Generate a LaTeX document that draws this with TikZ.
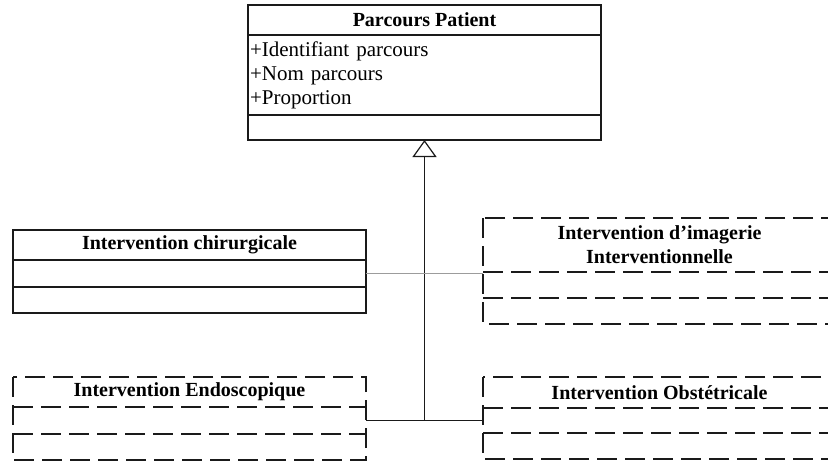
\documentclass[tikz,border=0pt]{standalone}
\usepackage{fontspec}
\setmainfont{Liberation Serif}
\usepackage{tikz}
\usetikzlibrary{arrows.meta,positioning}
\definecolor{ink}{HTML}{1A1A1A}
\definecolor{link}{HTML}{9C9C9C}

\begin{document}
\begin{tikzpicture}[x=1pt,y=1pt,node distance=0pt,
  every node/.style={font=\fontsize{10.5}{12}\selectfont,outer sep=0pt,inner sep=0pt},
  part/.style={minimum width=176.5pt,align=center},
  cls/.style={part,draw=ink,line width=0.7pt},
  ttl/.style={font=\fontsize{10}{12}\selectfont\bfseries},
  dbox/.style={draw=ink,line width=0.7pt,dash pattern=on 10pt off 4pt},
  gen/.style={-{Triangle[open,length=8.5pt,width=12pt]},draw=ink,line width=0.6pt},
  assoc/.style={draw=link,line width=0.6pt}]
  \clip (0,0) rectangle (414,-230.5);
  % super class
  \node[cls,ttl,minimum height=15pt,anchor=north] (parc) at (212.25,-2.5) {Parcours Patient};
  \node[cls,minimum height=40pt,text width=174.5pt,align=left,below=of parc] (parcattr)
    {+Identifiant parcours\\+Nom parcours\\+Proportion};
  \node[cls,minimum height=12.5pt,below=of parcattr] (parcops) {};
  % sub classes
  \node[cls,ttl,minimum height=15pt,anchor=north] (chir) at (94.75,-115) {Intervention chirurgicale};
  \node[cls,minimum height=13.5pt,below=of chir] (chirattr) {};
  \node[cls,minimum height=13pt,below=of chirattr] (chirops) {};
  \node[part,ttl,minimum height=27pt,anchor=north] (imag) at (329.75,-109)
    {Intervention d’imagerie\\Interventionnelle};
  \node[part,minimum height=13pt,below=of imag] (imagattr) {};
  \node[part,minimum height=13pt,below=of imagattr] (imagops) {};
  \node[part,ttl,minimum height=15pt,anchor=north] (endo) at (94.75,-188.5) {Intervention Endoscopique};
  \node[part,minimum height=13.5pt,below=of endo] (endoattr) {};
  \node[part,minimum height=13pt,below=of endoattr] (endoops) {};
  \node[part,ttl,minimum height=15.5pt,anchor=north] (obst) at (329.75,-188.5) {Intervention Obstétricale};
  \node[part,minimum height=12.5pt,below=of obst] (obstattr) {};
  \node[part,minimum height=13pt,below=of obstattr] (obstops) {};
  % dashed outlines
  \foreach \c in {imag,endo,obst}{
    \draw[dbox] (\c.north west) rectangle (\c ops.south east);
    \draw[dbox] (\c attr.north west) -- (\c attr.north east);
    \draw[dbox] (\c ops.north west) -- (\c ops.north east);
  }
  % links
  \coordinate (trunk) at (parcops.south |- endoattr.east);
  \draw[gen] (trunk) -- (parcops.south);
  \draw[draw=ink,line width=0.6pt] (endoattr.east) -- (endoattr.east -| obstattr.west);
  \draw[assoc] (chirattr.east) -- (chirattr.east -| imagattr.west);
\end{tikzpicture}
\end{document}
